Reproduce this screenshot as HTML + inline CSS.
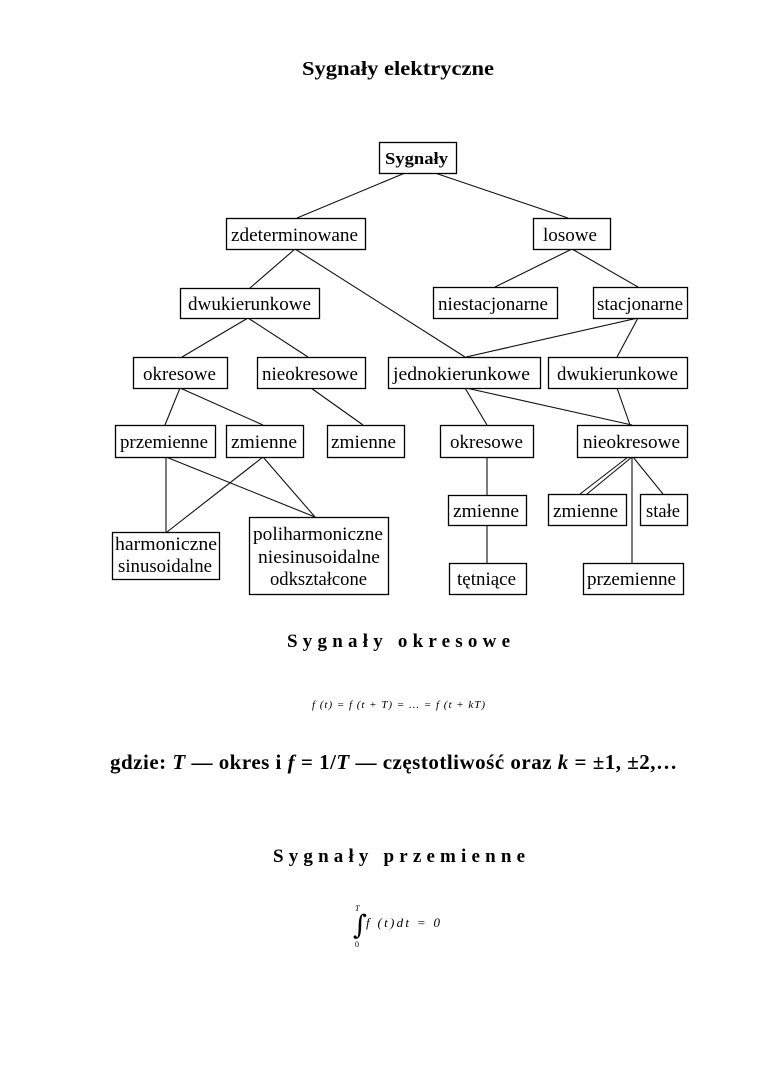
<!DOCTYPE html>
<html>
<head>
<meta charset="utf-8">
<style>
html,body{margin:0;padding:0;background:#fff;}
svg{display:block;}
.b{fill:#fff;stroke:#000;stroke-width:1.3;}
.l{stroke:#111;stroke-width:1.1;fill:none;}
.t{font-family:"Liberation Serif",serif;font-size:19px;fill:#000;}
.h{font-family:"Liberation Serif",serif;font-weight:bold;fill:#000;}
</style>
</head>
<body>
<svg width="760" height="1075" viewBox="0 0 760 1075" xmlns="http://www.w3.org/2000/svg">
<rect width="760" height="1075" fill="#fff"/>

<text class="h" x="302" y="75" font-size="20" textLength="192" lengthAdjust="spacingAndGlyphs">Sygnały elektryczne</text>

<!-- connectors -->
<g class="l">
<line x1="405" y1="173" x2="297" y2="218"/>
<line x1="435" y1="173" x2="568" y2="218"/>
<line x1="295" y1="249" x2="250" y2="288"/>
<line x1="295" y1="249" x2="465" y2="357"/>
<line x1="572" y1="249" x2="495" y2="287"/>
<line x1="572" y1="249" x2="638" y2="287"/>
<line x1="248" y1="318" x2="182" y2="357"/>
<line x1="248" y1="318" x2="308" y2="357"/>
<line x1="638" y1="318" x2="466" y2="357"/>
<line x1="638" y1="318" x2="617" y2="357"/>
<line x1="180" y1="388" x2="165" y2="425"/>
<line x1="180" y1="388" x2="263" y2="425"/>
<line x1="311" y1="388" x2="363" y2="425"/>
<line x1="465" y1="388" x2="487" y2="425"/>
<line x1="466" y1="388" x2="632" y2="425"/>
<line x1="617" y1="388" x2="630" y2="425"/>
<line x1="166" y1="457" x2="166" y2="532"/>
<line x1="166" y1="457" x2="315" y2="517"/>
<line x1="263" y1="457" x2="167" y2="532"/>
<line x1="263" y1="457" x2="315" y2="517"/>
<line x1="487" y1="457" x2="487" y2="495"/>
<line x1="487" y1="525" x2="487" y2="563"/>
<line x1="628" y1="457" x2="580" y2="494"/>
<line x1="632" y1="457" x2="587" y2="494"/>
<line x1="632" y1="457" x2="632" y2="563"/>
<line x1="633" y1="457" x2="663" y2="494"/>
</g>

<!-- boxes -->
<rect class="b" x="379.5" y="142.5" width="77" height="31"/>
<text class="h" x="385" y="164" font-size="17" textLength="63" lengthAdjust="spacingAndGlyphs">Sygnały</text>

<rect class="b" x="226.5" y="218.5" width="139" height="31"/>
<text class="t" x="231" y="241" textLength="127" lengthAdjust="spacingAndGlyphs">zdeterminowane</text>

<rect class="b" x="533.5" y="218.5" width="77" height="31"/>
<text class="t" x="543" y="241" textLength="54" lengthAdjust="spacingAndGlyphs">losowe</text>

<rect class="b" x="180.5" y="288.5" width="139" height="30"/>
<text class="t" x="188" y="310" textLength="123" lengthAdjust="spacingAndGlyphs">dwukierunkowe</text>

<rect class="b" x="433.5" y="287.5" width="124" height="31"/>
<text class="t" x="438" y="310" textLength="110" lengthAdjust="spacingAndGlyphs">niestacjonarne</text>

<rect class="b" x="593.5" y="287.5" width="94" height="31"/>
<text class="t" x="597" y="310" textLength="86" lengthAdjust="spacingAndGlyphs">stacjonarne</text>

<rect class="b" x="133.5" y="357.5" width="94" height="31"/>
<text class="t" x="143" y="380" textLength="73" lengthAdjust="spacingAndGlyphs">okresowe</text>

<rect class="b" x="257.5" y="357.5" width="108" height="31"/>
<text class="t" x="262" y="380" textLength="96" lengthAdjust="spacingAndGlyphs">nieokresowe</text>

<rect class="b" x="388.5" y="357.5" width="152" height="31"/>
<text class="t" x="393" y="380" textLength="137" lengthAdjust="spacingAndGlyphs">jednokierunkowe</text>

<rect class="b" x="548.5" y="357.5" width="139" height="31"/>
<text class="t" x="557" y="380" textLength="121" lengthAdjust="spacingAndGlyphs">dwukierunkowe</text>

<rect class="b" x="115.5" y="425.5" width="100" height="32"/>
<text class="t" x="120" y="448" textLength="88" lengthAdjust="spacingAndGlyphs">przemienne</text>

<rect class="b" x="226.5" y="425.5" width="77" height="32"/>
<text class="t" x="231" y="448" textLength="66" lengthAdjust="spacingAndGlyphs">zmienne</text>

<rect class="b" x="327.5" y="425.5" width="77" height="32"/>
<text class="t" x="331" y="448" textLength="65" lengthAdjust="spacingAndGlyphs">zmienne</text>

<rect class="b" x="440.5" y="425.5" width="93" height="32"/>
<text class="t" x="450" y="448" textLength="73" lengthAdjust="spacingAndGlyphs">okresowe</text>

<rect class="b" x="577.5" y="425.5" width="110" height="32"/>
<text class="t" x="583" y="448" textLength="97" lengthAdjust="spacingAndGlyphs">nieokresowe</text>

<rect class="b" x="112.5" y="532.5" width="107" height="47"/>
<text class="t" x="115" y="550" textLength="102" lengthAdjust="spacingAndGlyphs">harmoniczne</text>
<text class="t" x="118" y="572" textLength="94" lengthAdjust="spacingAndGlyphs">sinusoidalne</text>

<rect class="b" x="249.5" y="517.5" width="139" height="77"/>
<text class="t" x="253" y="540" textLength="130" lengthAdjust="spacingAndGlyphs">poliharmoniczne</text>
<text class="t" x="258" y="563" textLength="122" lengthAdjust="spacingAndGlyphs">niesinusoidalne</text>
<text class="t" x="270" y="585" textLength="97" lengthAdjust="spacingAndGlyphs">odkształcone</text>

<rect class="b" x="448.5" y="495.5" width="78" height="30"/>
<text class="t" x="453" y="517" textLength="66" lengthAdjust="spacingAndGlyphs">zmienne</text>

<rect class="b" x="449.5" y="563.5" width="77" height="31"/>
<text class="t" x="457" y="585" textLength="59" lengthAdjust="spacingAndGlyphs">tętniące</text>

<rect class="b" x="548.5" y="494.5" width="78" height="31"/>
<text class="t" x="553" y="517" textLength="65" lengthAdjust="spacingAndGlyphs">zmienne</text>

<rect class="b" x="640.5" y="494.5" width="47" height="31"/>
<text class="t" x="646" y="517" textLength="34" lengthAdjust="spacingAndGlyphs">stałe</text>

<rect class="b" x="583.5" y="563.5" width="100" height="31"/>
<text class="t" x="587" y="585" textLength="89" lengthAdjust="spacingAndGlyphs">przemienne</text>

<!-- lower text -->
<text class="h" x="287" y="647" font-size="19" textLength="223" lengthAdjust="spacing">Sygnały okresowe</text>

<text x="312" y="708" font-family="'Liberation Serif',serif" font-style="italic" font-size="11" textLength="173" lengthAdjust="spacing">f (t) = f (t + T) = ... = f (t + kT)</text>

<text class="h" x="110" y="769" font-size="21" textLength="567" lengthAdjust="spacing">gdzie: <tspan font-style="italic">T</tspan> — okres i <tspan font-style="italic">f</tspan> = 1/<tspan font-style="italic">T</tspan> — częstotliwość oraz <tspan font-style="italic">k</tspan> = ±1, ±2,…</text>

<text class="h" x="273" y="862" font-size="19" textLength="252" lengthAdjust="spacing">Sygnały przemienne</text>

<text x="353" y="934" font-family="'DejaVu Serif',serif" font-size="27">∫</text>
<text x="355" y="911" font-family="'Liberation Serif',serif" font-style="italic" font-size="8">T</text>
<text x="355" y="947" font-family="'Liberation Serif',serif" font-size="8">0</text>
<text x="366" y="927" font-family="'Liberation Serif',serif" font-style="italic" font-size="13" textLength="74" lengthAdjust="spacing">f (t)dt = 0</text>
</svg>
</body>
</html>
